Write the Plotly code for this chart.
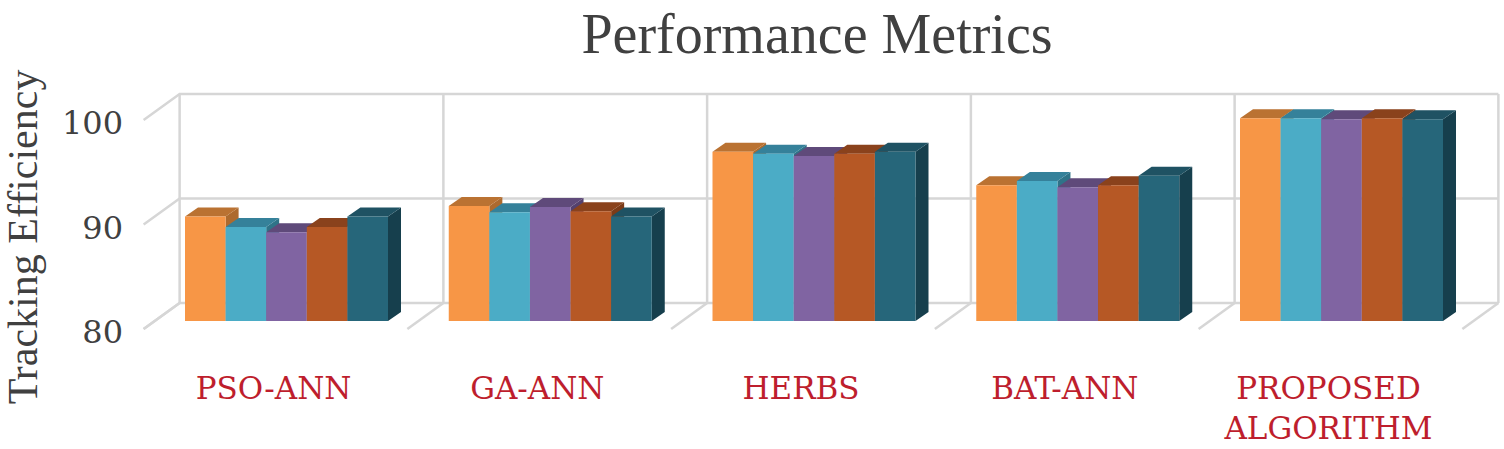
import plotly.graph_objects as go

categories = ['PSO-ANN', 'GA-ANN', 'HERBS', 'BAT-ANN', 'PROPOSED<br>ALGORITHM']
series_1 = [90.0, 91.0, 96.2, 93.0, 99.4]
series_2 = [89.0, 90.4, 96.0, 93.4, 99.4]
series_3 = [88.5, 90.9, 95.8, 92.8, 99.3]
series_4 = [89.0, 90.5, 96.0, 93.0, 99.4]
series_5 = [90.0, 90.0, 96.2, 93.9, 99.3]
all_series = [series_1, series_2, series_3, series_4, series_5]
y_ticks = [80, 90, 100]

front_colors = ['#F79646', '#4BACC6', '#8064A2', '#B65825', '#26667A']
top_colors = ['#BA7232', '#35819A', '#5F4A7A', '#8A421C', '#1F5263']
side_colors = ['#AD6A2E', '#2F7388', '#54416E', '#7C3B18', '#163F4D']

W, H = 1504, 449
# plot box in pixels
left, right, top, bottom = 130, 1504, 88, 386
unit_px = 263.75      # one category
val_px = 10.45        # one unit of efficiency
center0 = 286.5       # centre of first bar group
base_px = 321         # pixel of 80 on the bar plane
base = 80

x_range = [(left - center0) / unit_px, (right - center0) / unit_px]
y_range = [base + (base_px - bottom) / val_px, base + (base_px - top) / val_px]

bar_w = 40.6 / unit_px
bar_dx, bar_dy = 13 / unit_px, 9 / val_px       # depth of a bar
back_dx, back_dy = 25 / unit_px, 18 / val_px    # bar plane to back wall
front_dx, front_dy = -11 / unit_px, -8 / val_px  # bar plane to front of floor

fig = go.Figure()

# back wall, floor and left wall lines
gx, gy = [], []
for t in y_ticks:
    gx += [-0.5 + front_dx, -0.5 + back_dx, 4.5 + back_dx, None]
    gy += [t + front_dy, t + back_dy, t + back_dy, None]
for i in range(6):
    gx += [i - 0.5 + back_dx, i - 0.5 + back_dx, None]
    gy += [y_ticks[0] + back_dy, y_ticks[-1] + back_dy, None]
    gx += [i - 0.5 + back_dx, i - 0.5 + front_dx, None]
    gy += [y_ticks[0] + back_dy, y_ticks[0] + front_dy, None]
fig.add_trace(go.Scatter(x=gx, y=gy, mode='lines', line=dict(color='#D6D6D6', width=2.5),
                         hoverinfo='skip', showlegend=False))

# sides and tops of the bars, left to right
for j, values in enumerate(all_series):
    off = (j - 2.5) * bar_w
    sx, sy, tx, ty = [], [], [], []
    for i, v in enumerate(values):
        x0 = i + off
        x1 = x0 + bar_w
        sx += [x1, x1, x1 + bar_dx, x1 + bar_dx, x1, None]
        sy += [base, v, v + bar_dy, base + bar_dy, base, None]
        tx += [x0, x1, x1 + bar_dx, x0 + bar_dx, x0, None]
        ty += [v, v, v + bar_dy, v + bar_dy, v, None]
    fig.add_trace(go.Scatter(x=sx, y=sy, mode='lines', fill='toself', fillcolor=side_colors[j],
                             line=dict(width=0), hoverinfo='skip', showlegend=False))
    fig.add_trace(go.Scatter(x=tx, y=ty, mode='lines', fill='toself', fillcolor=top_colors[j],
                             line=dict(width=0), hoverinfo='skip', showlegend=False))

# front faces sit on an overlaying y axis so they stay above the polygons
for j, values in enumerate(all_series):
    fig.add_trace(go.Bar(x=list(range(5)), y=[v - base for v in values], base=base,
                         yaxis='y2', marker=dict(color=front_colors[j], line=dict(width=0)),
                         showlegend=False))

fig.update_layout(
    width=W, height=H,
    margin=dict(l=left, r=W - right, t=top, b=H - bottom),
    paper_bgcolor='white', plot_bgcolor='white',
    barmode='group', bargap=1 - 5 * bar_w, bargroupgap=0,
    showlegend=False,
    title=dict(text='Performance Metrics', x=817 / W, xanchor='center',
               y=1 - 33 / H, yanchor='middle',
               font=dict(family='Liberation Serif', size=56, color='#404040')),
    xaxis=dict(range=x_range, tickmode='array', tickvals=list(range(5)), ticktext=categories,
               automargin=False, showgrid=False, zeroline=False, showline=False, ticks='',
               ticklabelshift=-13, ticklabelstandoff=-19, tickangle=0,
               tickfont=dict(family='DejaVu Serif', size=31, color='#BE1E2D')),
    yaxis=dict(range=y_range, tickmode='array', tickvals=y_ticks, showgrid=False, zeroline=False,
               automargin=False, showline=False, ticks='', ticklabelshift=11, ticklabelstandoff=6,
               tickfont=dict(family='DejaVu Serif', size=32, color='#404040'),
               title=dict(text='Tracking Efficiency', standoff=28,
                          font=dict(family='Liberation Serif', size=42, color='#404040'))),
    yaxis2=dict(range=y_range, overlaying='y', visible=False),
)

# body margin off so the figure fills the window
fig.write_html("out.html", config=dict(displayModeBar=False),
               post_script="document.body.style.margin='0';")
